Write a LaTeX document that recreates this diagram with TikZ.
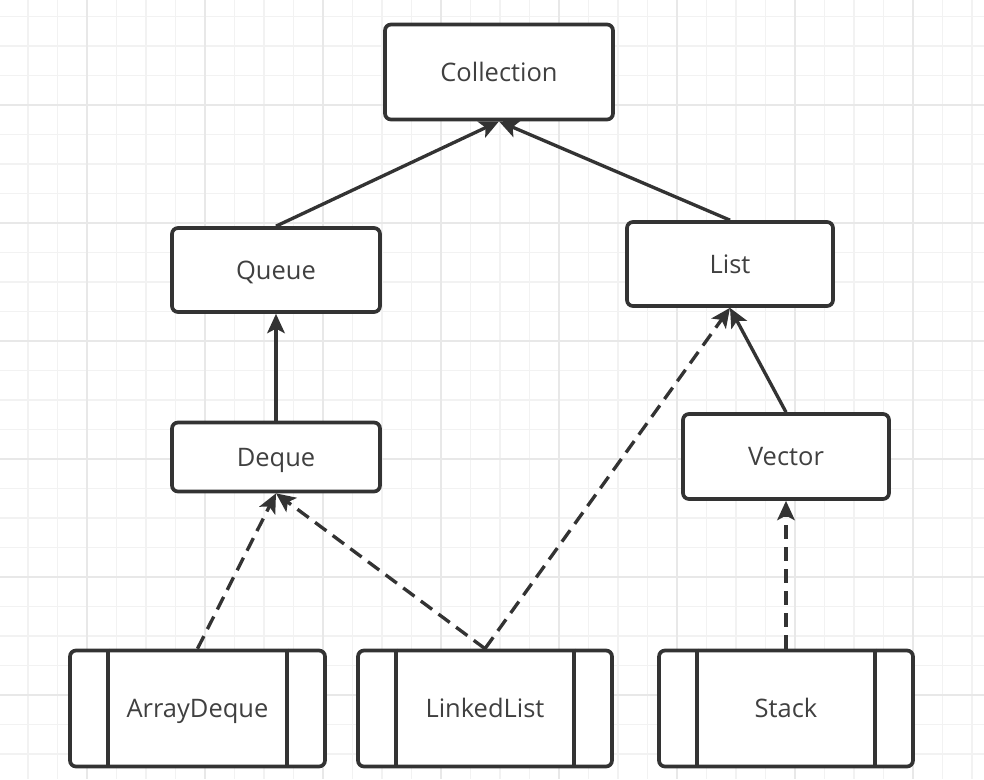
\documentclass[tikz,border=0pt]{standalone}
\usepackage{fontspec}
\setmainfont{Open Sans}
\usetikzlibrary{arrows.meta}
\definecolor{gridminor}{HTML}{F2F2F2}
\definecolor{gridmajor}{HTML}{E8E8E8}
\definecolor{ink}{HTML}{333333}
\definecolor{txt}{HTML}{404040}
\begin{document}
\begin{tikzpicture}[x=0.02cm,y=-0.02cm,
  box/.style={draw=ink,line width=2.1pt,rounded corners=3.4pt,fill=white,
    text=txt,font=\fontsize{14.5}{17}\selectfont,inner sep=0pt,
    text height=10.4pt,text depth=0pt},
  conn/.style={draw=ink,line width=1.9pt,-{Stealth[length=11pt,width=10pt,inset=2.6pt]}},
  dconn/.style={conn,dash pattern=on 8pt off 4.5pt},
  inner/.style={draw=ink,line width=2.1pt}]
\useasboundingbox (0,0) rectangle (984,779);
\fill[white] (0,0) rectangle (984,779);
% grid
\foreach \k in {0,...,34}{
  \draw[gridminor,line width=0.8pt] ({-1.5+29.5*\k},0) -- ({-1.5+29.5*\k},779);
  \draw[gridminor,line width=0.8pt] (0,{-13+29.5*\k}) -- (984,{-13+29.5*\k});
}
\foreach \k in {0,...,8}{
  \draw[gridmajor,line width=0.8pt] ({-31+118*\k},0) -- ({-31+118*\k},779);
  \draw[gridmajor,line width=0.8pt] (0,{-13+118*\k}) -- (984,{-13+118*\k});
}
% nodes
\node[box,minimum width=4.56cm,minimum height=1.9cm] (coll) at (499,72) {Collection};
\node[box,minimum width=4.16cm,minimum height=1.68cm] (queue) at (276,270) {Queue};
\node[box,minimum width=4.12cm,minimum height=1.68cm] (list) at (730,264) {List};
\node[box,minimum width=4.16cm,minimum height=1.38cm] (deque) at (276,457) {Deque};
\node[box,minimum width=4.12cm,minimum height=1.7cm] (vector) at (786,456.5) {Vector};
\node[box,minimum width=5.1cm,minimum height=2.32cm] (ad) at (197.5,708.5) {ArrayDeque};
\node[box,minimum width=5.08cm,minimum height=2.32cm] (ll) at (485,708.5) {LinkedList};
\node[box,minimum width=5.08cm,minimum height=2.32cm] (st) at (786,708.5) {Stack};
% inner bars of the process boxes
\foreach \n in {ad,ll,st}{
  \draw[inner] ([xshift=0.8cm]\n.north west) -- ([xshift=0.8cm]\n.south west);
  \draw[inner] ([xshift=-0.8cm]\n.north east) -- ([xshift=-0.8cm]\n.south east);
}
% connectors
\draw[conn] (queue.north) -- (coll.south);
\draw[conn] (list.north) -- (coll.south);
\draw[conn] (deque.north) -- (queue.south);
\draw[conn] (vector.north) -- (list.south);
\draw[dconn] (ad.north) -- (deque.south);
\draw[dconn] (ll.north) -- (deque.south);
\draw[dconn] (ll.north) -- (list.south);
\draw[dconn] (st.north) -- (vector.south);
\end{tikzpicture}
\end{document}
